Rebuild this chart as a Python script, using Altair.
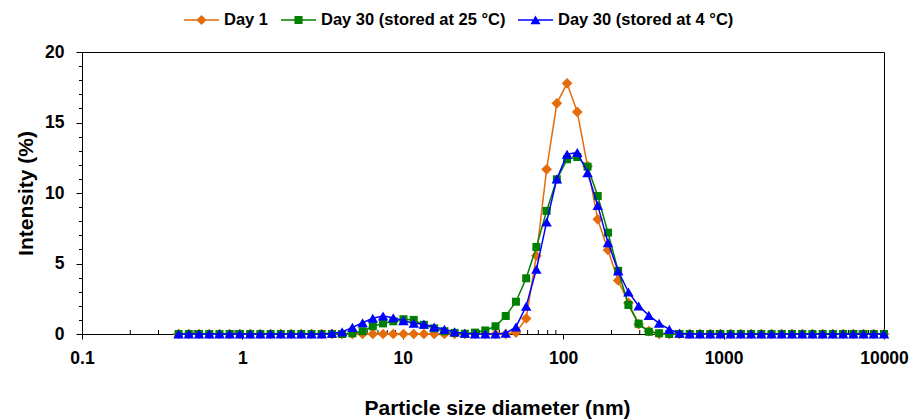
import altair as alt
import pandas as pd

# ---------------- data ----------------
sizes = [0.4, 0.4632, 0.5365, 0.6213, 0.7195, 0.8332, 0.9649, 1.117, 1.294, 1.499,
         1.736, 2.01, 2.328, 2.696, 3.122, 3.615, 4.187, 4.849, 5.615, 6.503,
         7.531, 8.721, 10.1, 11.7, 13.54, 15.69, 18.17, 21.04, 24.36, 28.21,
         32.67, 37.84, 43.82, 50.75, 58.77, 68.06, 78.82, 91.28, 105.7, 122.4,
         141.8, 164.2, 190.1, 220.2, 255.0, 295.3, 342.0, 396.1, 458.7, 531.2,
         615.1, 712.4, 825.0, 955.4, 1106, 1281, 1484, 1718, 1990, 2305,
         2669, 3091, 3580, 4145, 4801, 5560, 6439, 7456, 8635, 10000]

day1 = [0, 0, 0, 0, 0, 0, 0, 0, 0, 0,
        0, 0, 0, 0, 0, 0, 0, 0, 0, 0,
        0, 0, 0, 0, 0, 0, 0, 0, 0, 0,
        0, 0, 0, 0.1, 1.1, 5.55, 11.68, 16.36, 17.78, 15.75,
        11.9, 8.13, 5.96, 3.8, 2.2, 0.7, 0.2, 0, 0, 0,
        0, 0, 0, 0, 0, 0, 0, 0, 0, 0,
        0, 0, 0, 0, 0, 0, 0, 0, 0, 0]

day30_25 = [0, 0, 0, 0, 0, 0, 0, 0, 0, 0,
            0, 0, 0, 0, 0, 0, 0, 0.05, 0.2, 0.55,
            0.75, 0.9, 1.05, 1.0, 0.65, 0.4, 0.2, 0.08, 0.02, 0.1,
            0.25, 0.55, 1.28, 2.29, 3.95, 6.17, 8.73, 10.97, 12.39, 12.55,
            11.87, 9.79, 7.19, 4.48, 2.06, 0.73, 0.16, 0.05, 0, 0,
            0, 0, 0, 0, 0, 0, 0, 0, 0, 0,
            0, 0, 0, 0, 0, 0, 0, 0, 0, 0]

day30_4 = [0, 0, 0, 0, 0, 0, 0, 0, 0, 0,
           0, 0, 0, 0, 0, 0.05, 0.15, 0.47, 0.8, 1.12,
           1.28, 1.15, 0.95, 0.76, 0.7, 0.5, 0.33, 0.15, 0.05, 0,
           0, 0, 0.05, 0.5, 1.97, 4.59, 7.94, 11.0, 12.75, 12.87,
           11.44, 9.12, 6.48, 4.47, 2.98, 1.99, 1.32, 0.76, 0.33, 0.05,
           0, 0, 0, 0, 0, 0, 0, 0, 0, 0,
           0, 0, 0, 0, 0, 0, 0, 0, 0, 0]

series_names = ["Day 1", "Day 30 (stored at 25 °C)", "Day 30 (stored at 4 °C)"]
series_colors = ["#E46C0A", "#008000", "#0000FF"]
series_shapes = ["diamond", "square", "triangle-up"]
series_sizes = [115, 64, 110]

x_tick_values = [0.1, 1, 10, 100, 1000, 10000]
minor_mantissas = [2, 3, 4, 5, 6, 7, 8, 9]
minor_decades = [0.1, 1, 10, 100, 1000]
y_tick_values = list(range(0, 21))

# legend symbols: a line segment with the marker on it
legend_paths = [
    "M-1,-0.043L1,-0.043L1,0.043L-1,0.043ZM0,-0.29L0.29,0L0,0.29L-0.29,0Z",
    "M-1,-0.043L1,-0.043L1,0.043L-1,0.043ZM-0.23,-0.23L0.23,-0.23L0.23,0.23L-0.23,0.23Z",
    "M-1,-0.043L1,-0.043L1,0.043L-1,0.043ZM0,-0.26L0.29,0.24L-0.29,0.24Z",
]

FONT = "Liberation Sans"
W, H = 802, 282

rows = []
for name, vals in zip(series_names, [day1, day30_25, day30_4]):
    for s, v in zip(sizes, vals):
        rows.append({"size": s, "intensity": v, "series": name})
df = pd.DataFrame(rows)

minor_df = pd.DataFrame({"t": [m * d for d in minor_decades for m in minor_mantissas]})

xscale = alt.Scale(type="log", domain=[0.1, 10000], nice=False)
yscale = alt.Scale(domain=[0, 20], nice=False, zero=False)

x_axis = alt.Axis(values=x_tick_values, format="~g", title="Particle size diameter (nm)",
                  grid=False, tickSize=5, labelPadding=10, titlePadding=30.5, titleX=415,
                  labelFlush=False, labelOverlap=False,
                  labelFont=FONT, labelFontSize=17.5, labelFontWeight="bold", labelColor="black",
                  titleFont=FONT, titleFontSize=21, titleFontWeight="bold", titleColor="black",
                  domainColor="black", tickColor="black")
y_axis = alt.Axis(values=y_tick_values, title="Intensity (%)",
                  labelExpr="datum.value % 5 === 0 ? datum.label : ''",
                  tickSize={"condition": {"test": "datum.value % 5 === 0", "value": 6}, "value": 3.5},
                  grid=False, labelPadding=12, titlePadding=8, labelOverlap=False,
                  labelFont=FONT, labelFontSize=17.5, labelFontWeight="bold", labelColor="black",
                  titleFont=FONT, titleFontSize=21, titleFontWeight="bold", titleColor="black",
                  domainColor="black", tickColor="black")

X = alt.X("size:Q", scale=xscale, axis=x_axis)
Y = alt.Y("intensity:Q", scale=yscale, axis=y_axis)

layers = []
for name, col, shp, sz in zip(series_names, series_colors, series_shapes, series_sizes):
    sub = alt.Chart(df).transform_filter(alt.datum.series == name)
    layers.append(sub.mark_line(color=col, strokeWidth=1.5).encode(x=X, y=Y, order="size:Q"))
    layers.append(sub.mark_point(shape=shp, filled=True, color=col, size=sz,
                                 opacity=1, strokeWidth=0).encode(x=X, y=Y))

# minor ticks on the x axis (pointing inward)
minor_ticks = alt.Chart(minor_df).mark_rule(color="black", strokeWidth=1).encode(
    x=alt.X("t:Q", scale=xscale, axis=x_axis),
    y=alt.value(H), y2=alt.value(H - 4))

leg = dict(orient="none", legendX=102, legendY=-49.5, direction="horizontal", title=None,
           symbolSize=1225, symbolStrokeWidth=0, labelFont=FONT, labelFontSize=16.5,
           labelFontWeight="bold", labelColor="black", labelOffset=5, columnPadding=12,
           padding=0, labelLimit=400)

legend_layer = alt.Chart(df).transform_filter("false").mark_point(filled=True, opacity=1).encode(
    x=X, y=Y,
    color=alt.Color("series:N", scale=alt.Scale(domain=series_names, range=series_colors),
                    legend=alt.Legend(**leg)),
    shape=alt.Shape("series:N", scale=alt.Scale(domain=series_names, range=legend_paths),
                    legend=alt.Legend(**leg)),
)

chart = alt.layer(minor_ticks, *layers, legend_layer).properties(
    width=W, height=H,
    autosize=alt.AutoSizeParams(type="none"),
    padding={"left": 82, "top": 52, "right": 35, "bottom": 86},
    background="white",
).configure_view(stroke="black", strokeWidth=1)

chart.save("out.html", embed_options={"renderer": "svg", "actions": False})
